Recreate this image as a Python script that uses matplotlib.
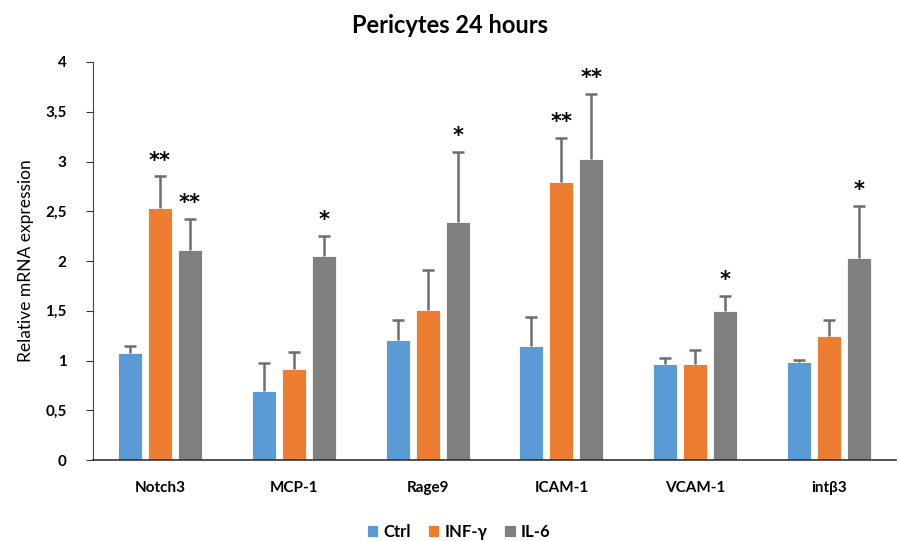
import matplotlib.pyplot as plt
import numpy as np

genes = ["Notch3", "MCP-1", "Rage9", "ICAM-1", "VCAM-1", "intβ3"]
series = ["Ctrl", "INF-γ", "IL-6"]
colors = ["#5b9bd5", "#ed7d31", "#7f7f7f"]

ctrl = [1.08, 0.69, 1.21, 1.15, 0.96, 0.98]
ctrl_err = [0.07, 0.28, 0.20, 0.29, 0.07, 0.03]
inf = [2.53, 0.91, 1.51, 2.79, 0.96, 1.25]
inf_err = [0.32, 0.18, 0.40, 0.45, 0.15, 0.16]
il6 = [2.11, 2.05, 2.39, 3.03, 1.50, 2.03]
il6_err = [0.31, 0.20, 0.71, 0.65, 0.15, 0.52]

# significance marks (per series, per gene)
ctrl_sig = ["", "", "", "", "", ""]
inf_sig = ["**", "", "", "**", "", ""]
il6_sig = ["**", "*", "*", "**", "*", "*"]

plt.rcParams["font.family"] = ["Lato", "DejaVu Sans"]

fig = plt.figure(figsize=(8.99, 5.41), dpi=100)
ax = fig.add_axes([0.1034, 0.1497, 0.8933, 0.7357])

x = np.arange(len(genes))
width = 0.18
step = 0.224

for i, (vals, errs, sig) in enumerate([(ctrl, ctrl_err, ctrl_sig), (inf, inf_err, inf_sig), (il6, il6_err, il6_sig)]):
    pos = x + (i - 1) * step
    tops = np.array(vals) + np.array(errs)
    ax.bar(pos, vals, width, color=colors[i], label=series[i], edgecolor="white", linewidth=0.6, zorder=2)
    # upper error bar only
    ax.errorbar(pos, vals, yerr=[np.zeros(len(vals)), errs], fmt="none", ecolor="#6d6d6d",
                elinewidth=1.8, capsize=0, zorder=3)
    ax.plot(pos, tops, ls="none", marker="_", ms=9, mew=1.8, color="#6d6d6d", zorder=3)
    for p, t, s in zip(pos, tops, sig):
        if s:
            ax.text(p, t + 0.16, s, ha="center", va="center", fontsize=15,
                    fontweight="bold", color="black", family="DejaVu Sans")

ax.set_xlim(-0.5, len(genes) - 0.5)
ax.set_ylim(0, 4)
ax.set_yticks(np.arange(0, 4.01, 0.5))
ax.set_yticklabels(["0", "0,5", "1", "1,5", "2", "2,5", "3", "3,5", "4"], fontweight="bold", fontsize=11)
ax.set_xticks(x)
ax.set_xticklabels(genes, fontweight="bold", fontsize=11)
ax.tick_params(axis="x", length=0, pad=15)
ax.tick_params(axis="y", direction="out", length=5, color="#333333", pad=14)

for s in ["top", "right"]:
    ax.spines[s].set_visible(False)
ax.spines["left"].set_color("#444444")
ax.spines["bottom"].set_color("#333333")
ax.spines["bottom"].set_linewidth(1.2)

ax.set_ylabel("Relative mRNA expression", fontsize=12.5, labelpad=8)
fig.suptitle("Pericytes 24 hours", fontsize=17, fontweight="bold", y=0.975)

fig.legend(loc="lower center", ncol=3, bbox_to_anchor=(0.51, -0.025), frameon=False,
           handlelength=0.7, handleheight=0.7, handletextpad=0.3, columnspacing=1.0,
           prop={"weight": "bold", "size": 12})

fig.savefig("out.png", dpi=100)
